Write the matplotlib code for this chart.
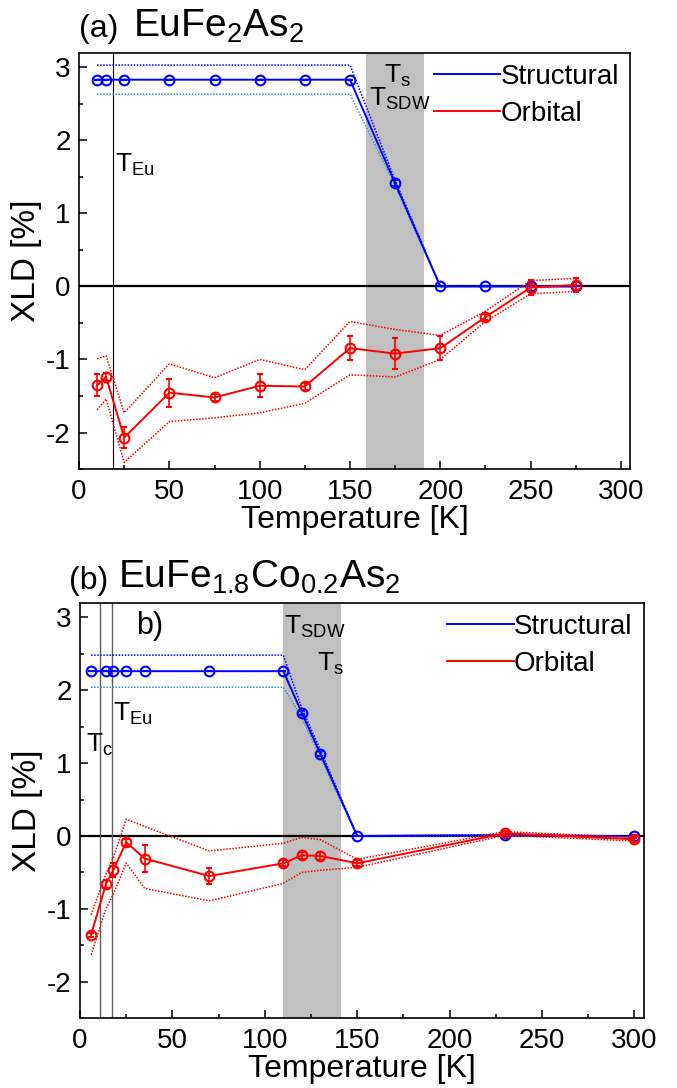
import matplotlib
matplotlib.use("Agg")
import matplotlib.pyplot as plt
from matplotlib.lines import Line2D
from matplotlib.ticker import MultipleLocator

plt.rcParams["font.family"] = ["Liberation Sans", "DejaVu Sans"]
plt.rcParams["mathtext.default"] = "regular"
plt.rcParams["axes.unicode_minus"] = False

# ---- panel (a): EuFe2As2 ----
Ta = [10, 15, 25, 50, 75, 100, 125, 150, 175, 200, 225, 250, 275]
struct_a = [2.83, 2.83, 2.83, 2.83, 2.83, 2.83, 2.83, 2.83, 1.41, 0.0, 0.0, 0.0, 0.0]
struct_a_err = [0, 0, 0, 0, 0, 0, 0, 0, 0.04, 0, 0, 0, 0]
struct_a_hi = [3.03, 3.03, 3.03, 3.03, 3.03, 3.03, 3.03, 3.03, 1.45, 0.0, 0.0, 0.0, 0.0]
struct_a_lo = [2.63, 2.63, 2.63, 2.63, 2.63, 2.63, 2.63, 2.63, 1.38, 0.0, 0.0, 0.0, 0.0]
orb_a = [-1.355, -1.24, -2.07, -1.455, -1.52, -1.36, -1.37, -0.845, -0.92, -0.845, -0.42, -0.015, 0.02]
orb_a_err = [0.15, 0.05, 0.14, 0.19, 0.05, 0.16, 0.05, 0.165, 0.21, 0.165, 0.04, 0.10, 0.09]
orb_a_hi = [-0.99, -0.95, -1.73, -1.06, -1.25, -1.00, -1.14, -0.48, -0.59, -0.67, -0.34, 0.08, 0.11]
orb_a_lo = [-1.69, -1.54, -2.41, -1.85, -1.80, -1.73, -1.60, -1.21, -1.24, -1.00, -0.48, -0.10, -0.07]
band_a = (159, 191)
TEu_a = 19

# ---- panel (b): EuFe1.8Co0.2As2 ----
Tb = [6, 14, 18, 25, 35, 70, 110, 120, 130, 150, 230, 300]
struct_b = [2.26, 2.26, 2.26, 2.26, 2.26, 2.26, 2.26, 1.69, 1.13, 0.0, 0.01, -0.005]
struct_b_err = [0, 0, 0, 0, 0, 0, 0, 0.03, 0.03, 0, 0.02, 0.02]
struct_b_hi = [2.48, 2.48, 2.48, 2.48, 2.48, 2.48, 2.48, 1.75, 1.18, 0.0, 0.02, 0.0]
struct_b_lo = [2.04, 2.04, 2.04, 2.04, 2.04, 2.04, 2.04, 1.62, 1.08, 0.0, 0.0, -0.01]
orb_b = [-1.356, -0.66, -0.466, -0.087, -0.31, -0.55, -0.375, -0.265, -0.274, -0.375, 0.037, -0.046]
orb_b_err = [0.03, 0.05, 0.10, 0.05, 0.18, 0.11, 0.04, 0.05, 0.05, 0.04, 0.03, 0.03]
orb_b_hi = [-1.08, -0.52, -0.30, 0.23, 0.13, -0.205, -0.10, -0.02, -0.05, -0.32, 0.06, -0.02]
orb_b_lo = [-1.63, -1.00, -0.80, -0.37, -0.72, -0.89, -0.65, -0.50, -0.47, -0.43, 0.01, -0.07]
band_b = (110, 141)
Tc_b, TEu_b = 10.8, 17.2

BLUE = "#0000ff"
LBLUE = "#3a8ee8"
RED = "#ff0000"
BAND = "#c0c0c0"

fig = plt.figure(figsize=(6.77, 10.88), dpi=100)
axa = fig.add_axes([0.1167, 0.5689, 0.8139, 0.3827])
axb = fig.add_axes([0.1182, 0.0641, 0.8326, 0.3820])


def draw(ax, T, s, se, shi, slo, o, oe, ohi, olo, band):
    ax.axvspan(band[0], band[1], color=BAND, lw=0, zorder=0)
    ax.axhline(0, color="black", lw=1.6, zorder=1)
    ax.plot(T, shi, ls=(0, (1, 1)), color=BLUE, lw=1.1, zorder=2)
    ax.plot(T, slo, ls=(0, (1, 1)), color=LBLUE, lw=1.1, zorder=2)
    ax.errorbar(T, s, yerr=se, fmt="-o", color=BLUE, mfc="none", ms=7, mew=1.5,
                lw=1.4, capsize=2.5, elinewidth=1.2, zorder=3)
    ax.plot(T, ohi, ls=(0, (1, 1)), color=RED, lw=1.1, zorder=4)
    ax.plot(T, olo, ls=(0, (1, 1)), color=RED, lw=1.1, zorder=4)
    ax.errorbar(T, o, yerr=oe, fmt="-o", color=RED, mfc="none", ms=7, mew=1.5,
                lw=1.4, capsize=2.5, elinewidth=1.2, zorder=5)
    ax.set_xlim(0, 305)
    ax.set_ylim(-2.5, 3.2)
    ax.set_yticks([-2, -1, 0, 1, 2, 3])
    ax.set_xticks([0, 50, 100, 150, 200, 250, 300])
    ax.xaxis.set_minor_locator(MultipleLocator(25))
    ax.yaxis.set_minor_locator(MultipleLocator(0.5))
    ax.tick_params(which="both", direction="in", labelsize=20, width=1.1,
                   top=False, right=False)
    ax.tick_params(which="major", length=6)
    ax.tick_params(which="minor", length=3)
    ax.tick_params(axis="x", which="both", pad=7)
    ax.tick_params(axis="y", which="both", pad=6)
    for sp in ax.spines.values():
        sp.set_linewidth(1.2)
    ax.set_xlabel("Temperature [K]", fontsize=23, labelpad=0)
    ax.set_ylabel("XLD [%]", fontsize=24, labelpad=3)
    handles = [Line2D([], [], color=BLUE, lw=1.4), Line2D([], [], color=RED, lw=1.4)]
    ax.legend(handles, ["Structural", "Orbital"], loc="upper right", frameon=False,
              fontsize=20, handlelength=2.4, handletextpad=0.0, labelspacing=0.4,
              borderaxespad=0.25, borderpad=0.15)


draw(axa, Ta, struct_a, struct_a_err, struct_a_hi, struct_a_lo,
     orb_a, orb_a_err, orb_a_hi, orb_a_lo, band_a)
axa.axvline(TEu_a, color="black", lw=0.8, zorder=1)
axa.text(169, 2.79, "T$_s$", fontsize=19, ha="left", va="baseline")
axa.text(160.5, 2.47, "T$_{SDW}$", fontsize=19, ha="left", va="baseline")
axa.text(20, 1.57, "T$_{Eu}$", fontsize=19, ha="left", va="baseline")

draw(axb, Tb, struct_b, struct_b_err, struct_b_hi, struct_b_lo,
     orb_b, orb_b_err, orb_b_hi, orb_b_lo, band_b)
axb.axvline(Tc_b, color="#606060", lw=1.0, zorder=1)
axb.axvline(TEu_b, color="#606060", lw=1.0, zorder=1)
axb.text(30.5, 2.77, "b)", fontsize=22, ha="left", va="baseline")
axb.text(110.4, 2.77, "T$_{SDW}$", fontsize=19, ha="left", va="baseline")
axb.text(128, 2.26, "T$_s$", fontsize=19, ha="left", va="baseline")
axb.text(17.6, 1.585, "T$_{Eu}$", fontsize=19, ha="left", va="baseline")
axb.text(3.3, 1.15, "T$_c$", fontsize=19, ha="left", va="baseline")

# panel titles
fig.text(79 / 677, 1 - 37 / 1088, "(a)", fontsize=23, ha="left", va="baseline")
fig.text(133 / 677, 1 - 37 / 1088, "EuFe$_2$As$_2$", fontsize=28, ha="left", va="baseline")
fig.text(69 / 677, 1 - 589 / 1088, "(b)", fontsize=23, ha="left", va="baseline")
fig.text(118 / 677, 1 - 588 / 1088, "EuFe$_{1.8}$Co$_{0.2}$As$_2$", fontsize=28,
         ha="left", va="baseline")

fig.savefig("out.png", dpi=100)
